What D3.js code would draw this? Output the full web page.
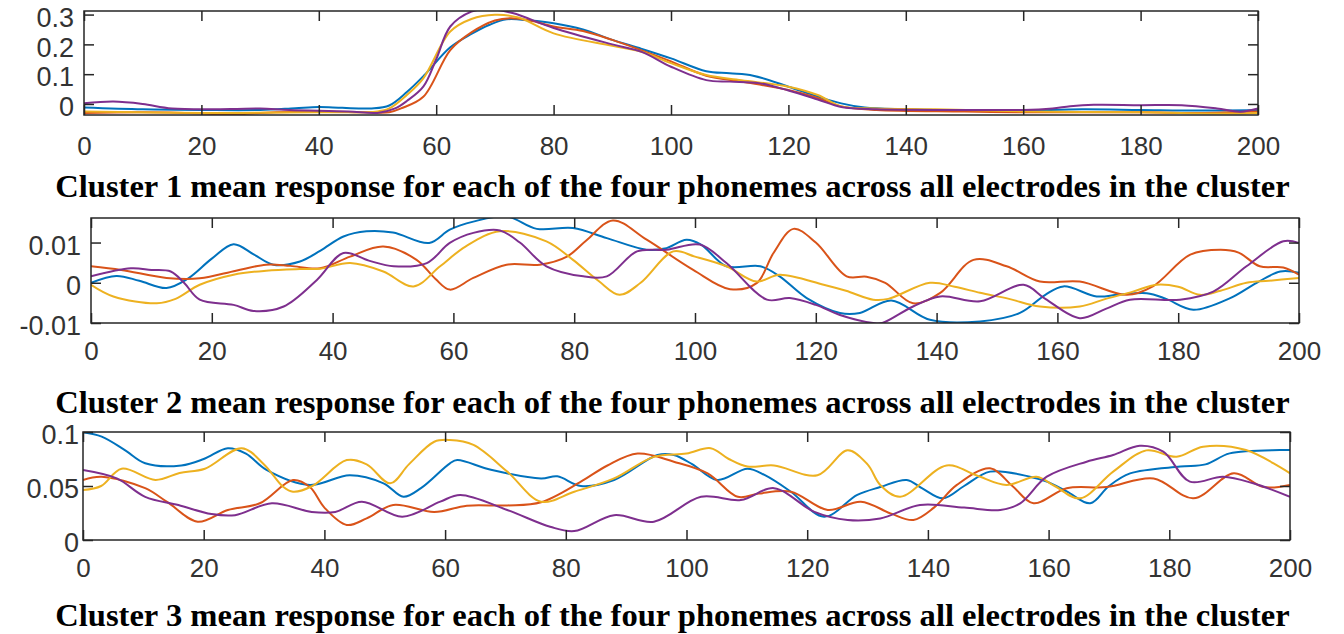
<!DOCTYPE html>
<html>
<head>
<meta charset="utf-8">
<script src="https://cdn.jsdelivr.net/npm/d3@7"></script>
<style>
  body { margin: 0; background: #fff; }
</style>
</head>
<body>
<div id="my_dataviz"></div>
<script>
// ---- data: [time sample, mean response] ----
var xTicks = [0, 20, 40, 60, 80, 100, 120, 140, 160, 180, 200];
var yTicks1 = [0, 0.1, 0.2, 0.3];
var yTicks2 = [-0.01, 0, 0.01];
var yTicks3 = [0, 0.05, 0.1];
var yDomain1 = [-0.037, 0.312];
var yDomain2 = [-0.01, 0.0161];
var yDomain3 = [0, 0.1];

var titles = [
  "Cluster 1 mean response for each of the four phonemes across all electrodes in the cluster",
  "Cluster 2 mean response for each of the four phonemes across all electrodes in the cluster",
  "Cluster 3 mean response for each of the four phonemes across all electrodes in the cluster"
];

// cluster 1
var c1p1 = [[0,-0.012],[10,-0.018],[20,-0.02],[30,-0.02],[36,-0.014],[40,-0.01],[44,-0.013],[49,-0.015],[52,-0.005],[55,0.04],[58,0.097],[62.4,0.19],[66,0.235],[69,0.265],[72,0.284],[76,0.28],[80,0.271],[85,0.25],[90,0.215],[95,0.185],[100,0.153],[106,0.11],[110,0.103],[114,0.095],[120,0.058],[125,0.025],[129,0.002],[133,-0.012],[140,-0.018],[150,-0.022],[160,-0.022],[170,-0.018],[180,-0.02],[190,-0.022],[200,-0.02]];
var c1p2 = [[0,-0.03],[10,-0.028],[20,-0.032],[25,-0.036],[30,-0.03],[40,-0.025],[48,-0.028],[52,-0.028],[54,-0.015],[57.8,0.024],[62.4,0.181],[66,0.24],[70,0.28],[72.6,0.288],[76,0.28],[80,0.26],[85,0.245],[90,0.215],[95,0.18],[100,0.143],[106,0.095],[112,0.075],[120,0.047],[125,0.02],[129,-0.008],[135,-0.02],[150,-0.025],[160,-0.028],[180,-0.028],[190,-0.03],[200,-0.025]];
var c1p3 = [[0,-0.025],[20,-0.03],[40,-0.028],[50,-0.025],[52,-0.015],[55,0.03],[57.8,0.086],[62.4,0.243],[66,0.285],[70,0.299],[74,0.29],[80,0.237],[90,0.195],[95,0.175],[100,0.137],[106,0.097],[112,0.08],[120,0.058],[125,0.03],[129,-0.008],[135,-0.015],[145,-0.018],[160,-0.025],[180,-0.028],[195,-0.032],[200,-0.03]];
var c1p4 = [[0,0.002],[5,0.008],[10,0.0],[15,-0.015],[25,-0.017],[30,-0.015],[35,-0.02],[45,-0.025],[50,-0.03],[53,-0.015],[55,0.01],[57.8,0.058],[60,0.15],[62.4,0.26],[66,0.31],[69,0.318],[73,0.305],[80,0.255],[90,0.2],[95,0.175],[100,0.125],[106,0.08],[110,0.075],[115,0.07],[120,0.045],[125,0.015],[129,-0.01],[135,-0.018],[150,-0.02],[160,-0.02],[165,-0.015],[168,-0.008],[172,-0.003],[180,-0.004],[187,-0.004],[193,-0.015],[197,-0.026],[200,-0.015]];

// cluster 2
var c2p1 = [[0,0],[4.2,0.0017],[8,0.0005],[12.5,-0.0013],[16,0.001],[20,0.006],[23.6,0.0096],[27,0.007],[30.2,0.0045],[34.6,0.0053],[38,0.008],[41.8,0.0115],[45.6,0.0128],[50,0.0125],[56,0.0099],[59.4,0.0132],[63.3,0.0152],[68.8,0.0165],[73.8,0.0134],[79.8,0.0136],[85.4,0.0111],[92,0.0082],[95,0.0085],[98.6,0.0107],[101,0.0095],[105.2,0.0041],[110.8,0.0041],[114,0.0016],[118.5,-0.0038],[124,-0.0075],[127.3,-0.0075],[132.5,-0.0044],[138.9,-0.0092],[147.2,-0.0096],[153.8,-0.0075],[158,-0.003],[161,-0.0009],[166.5,-0.0034],[170,-0.003],[174.8,-0.0026],[178,-0.004],[182.5,-0.0067],[188.6,-0.0038],[193,0],[196.9,0.0028],[200,0.0025]];
var c2p2 = [[0,0.0041],[5,0.0032],[12.5,0.0012],[18,0.0011],[24,0.003],[29,0.0045],[33,0.0042],[37.9,0.0036],[42.9,0.0065],[48.4,0.009],[53.9,0.0057],[57,0.001],[59.4,-0.0017],[63.3,0.0012],[68.8,0.0045],[74.3,0.0045],[78.8,0.0065],[82,0.0105],[86.4,0.0155],[92,0.0107],[99.7,0.0032],[105.8,-0.0016],[110.2,-0.0001],[113,0.0074],[116.3,0.0134],[120,0.01],[125.1,0.0016],[128.4,0.0015],[131.5,0.0],[136.1,-0.0051],[140.6,-0.0025],[146.1,0.0057],[151.6,0.0041],[157.1,0.0003],[163.7,0.0003],[171.5,-0.003],[175.8,-0.0009],[182,0.007],[187,0.0082],[190,0.0075],[193.5,0.0041],[197.4,0.0038],[200,0.002]];
var c2p3 = [[0,-0.0005],[3.7,-0.0034],[10.9,-0.0051],[14,-0.004],[18,-0.0005],[23.6,0.002],[29,0.003],[34.6,0.0034],[38,0.0035],[42.9,0.0049],[48.4,0.0028],[53.4,-0.0009],[57.8,0.0041],[62,0.009],[67.7,0.0128],[75.4,0.0103],[79.8,0.0057],[84,0.0005],[87.5,-0.003],[91,0.0],[96.4,0.0078],[100,0.0065],[105.2,0.0041],[110.2,0.0003],[114,0.002],[121.3,-0.0005],[125,-0.002],[129.5,-0.0042],[132,-0.004],[138.9,0],[143,-0.001],[147.2,-0.0025],[152,-0.004],[157.1,-0.0059],[163.7,-0.0059],[168,-0.004],[172.5,-0.0022],[176.4,-0.0005],[180,-0.001],[183.6,-0.003],[187,-0.002],[191.3,0],[195,0.0005],[200,0.0012]];
var c2p4 = [[0,0.0016],[6.6,0.0036],[10,0.0032],[13.2,0.0028],[15.4,0],[18,-0.0042],[23.6,-0.0055],[26.9,-0.007],[31.9,-0.0059],[37.4,0.0007],[41.8,0.0074],[46,0.0055],[50.1,0.0041],[55.6,0.0049],[59.4,0.0099],[63.3,0.0124],[67.7,0.013],[71,0.01],[75.4,0.0041],[81.5,0.0016],[85.4,0.0016],[90.4,0.0078],[95.3,0.0082],[100.8,0.0095],[105.2,0.0049],[111.9,-0.0042],[115.7,-0.0038],[120,-0.0055],[124,-0.008],[129.5,-0.01],[131,-0.01],[136.1,-0.0059],[140.6,-0.0034],[147.2,-0.0046],[154.4,-0.0005],[158,-0.004],[163.7,-0.0088],[168,-0.0065],[172,-0.0042],[180.3,-0.0042],[185.8,-0.0022],[191.3,0.0041],[197.4,0.0103],[200,0.0099]];

// cluster 3
var c3p1 = [[0,0.0997],[3.1,0.0957],[7,0.083],[10.3,0.071],[16.3,0.069],[20,0.075],[24,0.085],[27,0.08],[30.4,0.065],[37.6,0.051],[44.2,0.06],[49.8,0.0525],[53.1,0.04],[56,0.048],[60.8,0.071],[62,0.074],[67.6,0.065],[75.9,0.057],[78.6,0.059],[82.5,0.05],[88,0.0556],[95.2,0.0787],[97.9,0.0787],[101,0.07],[105.1,0.0556],[110.1,0.066],[113,0.06],[117.3,0.0447],[122.8,0.0216],[128.3,0.0417],[132.1,0.049],[136.5,0.0556],[139,0.048],[142.5,0.0386],[146,0.05],[150.3,0.0633],[156.9,0.0586],[159.7,0.054],[163,0.045],[166.9,0.034],[170,0.05],[173.5,0.0617],[181.8,0.068],[186,0.07],[190,0.0802],[198.3,0.0833],[200,0.0833]];
var c3p2 = [[0,0.0556],[3.1,0.0586],[10.3,0.048],[14,0.035],[19,0.017],[24,0.0278],[29.3,0.034],[34.8,0.0556],[37.6,0.049],[40,0.03],[43.7,0.0139],[47,0.02],[51.4,0.0324],[58.2,0.026],[63.6,0.0318],[70.3,0.032],[75.9,0.035],[82.5,0.054],[86.9,0.069],[91.9,0.08],[97.9,0.0725],[103.5,0.0617],[108.5,0.04],[112,0.043],[117.3,0.0447],[123.4,0.0278],[128.9,0.0355],[133.8,0.0247],[137.6,0.0185],[141,0.03],[144.8,0.051],[150.3,0.0664],[154,0.05],[157.5,0.034],[163,0.048],[169.6,0.049],[177.4,0.057],[184,0.0386],[190.7,0.0617],[195.6,0.049],[200,0.051]];
var c3p3 = [[0,0.0463],[3,0.05],[6.4,0.066],[12,0.0556],[16,0.062],[20.2,0.066],[26.3,0.085],[30,0.07],[33.2,0.049],[34.8,0.0447],[38,0.05],[43.7,0.074],[47,0.07],[50.9,0.0525],[54,0.07],[58.2,0.091],[60.8,0.0926],[64.7,0.088],[70.3,0.0633],[75.9,0.0355],[81.4,0.0447],[88,0.057],[94.6,0.077],[100,0.08],[104,0.085],[107,0.075],[110.1,0.068],[114.5,0.069],[121.7,0.06],[126.7,0.083],[130,0.07],[132.1,0.051],[135.4,0.04],[143.1,0.069],[148,0.06],[153,0.051],[158,0.0586],[161,0.05],[165.2,0.0386],[170.7,0.0633],[176.2,0.083],[181.2,0.077],[185.6,0.0864],[192.7,0.0833],[200,0.0617]];
var c3p4 = [[0,0.0648],[5.6,0.057],[10.3,0.04],[15.8,0.0324],[21.3,0.024],[25.2,0.023],[31.3,0.034],[37.9,0.026],[41.8,0.026],[46.2,0.0355],[52.9,0.0216],[59.2,0.0355],[62.5,0.0417],[70.3,0.0278],[77.4,0.0123],[81.4,0.0083],[88,0.023],[94.6,0.017],[102.4,0.04],[109,0.037],[114.5,0.048],[121.2,0.026],[126.7,0.0185],[132.1,0.02],[138.7,0.0324],[146,0.03],[152,0.0278],[155.3,0.034],[159.7,0.0586],[166.3,0.0725],[170.7,0.0787],[175.1,0.0873],[179,0.0818],[183.4,0.054],[188.9,0.0586],[193.9,0.0525],[200,0.04]];

// MATLAB default line colours
var colors = ["#0072BD", "#D95319", "#EDB120", "#7E2F8E"];

var svg = d3.select("#my_dataviz")
  .append("svg")
  .attr("width", 1344)
  .attr("height", 634);

var axisFont = "'Liberation Sans', Arial, sans-serif";
var axisColor = "#262626";

// matlab-style labels: plain hyphen for negatives
function yFormat(d) {
  return d3.format("~g")(d).replace("\u2212", "-");
}

function drawPanel(id, box, yDomain, yTicks, series, xPad, yPad) {
  var x = d3.scaleLinear().domain([0, 200]).range([box.left, box.right]);
  var y = d3.scaleLinear().domain(yDomain).range([box.bottom, box.top]);

  svg.append("clipPath")
    .attr("id", "clip" + id)
    .append("rect")
    .attr("x", box.left).attr("y", box.top)
    .attr("width", box.right - box.left).attr("height", box.bottom - box.top);

  var line = d3.line()
    .x(function(d) { return x(d[0]); })
    .y(function(d) { return y(d[1]); })
    .curve(d3.curveCatmullRom.alpha(0.5));

  var g = svg.append("g").attr("clip-path", "url(#clip" + id + ")");
  series.forEach(function(s, i) {
    g.append("path")
      .datum(s)
      .attr("fill", "none")
      .attr("stroke", colors[i])
      .attr("stroke-width", 2)
      .attr("d", line);
  });

  // ticks on all four sides, pointing inward
  var bottom = svg.append("g")
    .attr("transform", "translate(0," + box.bottom + ")")
    .call(d3.axisBottom(x).tickValues(xTicks).tickSizeInner(-10).tickSizeOuter(0).tickPadding(xPad));
  svg.append("g")
    .attr("transform", "translate(0," + box.top + ")")
    .call(d3.axisTop(x).tickValues(xTicks).tickSizeInner(-10).tickSizeOuter(0).tickFormat(""));
  var left = svg.append("g")
    .attr("transform", "translate(" + box.left + ",0)")
    .call(d3.axisLeft(y).tickValues(yTicks).tickSizeInner(-10).tickSizeOuter(0).tickPadding(yPad).tickFormat(yFormat));
  svg.append("g")
    .attr("transform", "translate(" + box.right + ",0)")
    .call(d3.axisRight(y).tickValues(yTicks).tickSizeInner(-10).tickSizeOuter(0).tickFormat(""));

  svg.selectAll(".domain").remove();
  svg.selectAll(".tick line").attr("stroke", axisColor).attr("stroke-width", 1.5);

  bottom.attr("font-family", axisFont).attr("font-size", 26);
  left.attr("font-family", axisFont).attr("font-size", 27);
  bottom.selectAll("text").attr("fill", "#333");
  left.selectAll("text").attr("fill", "#333").attr("y", 3);

  svg.append("rect")
    .attr("x", box.left).attr("y", box.top)
    .attr("width", box.right - box.left).attr("height", box.bottom - box.top)
    .attr("fill", "none")
    .attr("stroke", axisColor)
    .attr("stroke-width", 1.5);
}

drawPanel(1, {left: 84, right: 1258, top: 11, bottom: 115}, yDomain1, yTicks1, [c1p1, c1p2, c1p3, c1p4], 22, 10);
drawPanel(2, {left: 91, right: 1299, top: 218, bottom: 323}, yDomain2, yTicks2, [c2p1, c2p2, c2p3, c2p4], 19, 10);
drawPanel(3, {left: 83, right: 1290, top: 432, bottom: 540}, yDomain3, yTicks3, [c3p1, c3p2, c3p3, c3p4], 19, 4);

// captions, sized so each spans the same width as in the figure
var titleY = [196.5, 413.3, 625.7];
titles.forEach(function(t, i) {
  var txt = svg.append("text")
    .attr("x", 672.5)
    .attr("y", titleY[i])
    .attr("text-anchor", "middle")
    .attr("font-family", "'Liberation Serif', 'Times New Roman', serif")
    .attr("font-weight", "bold")
    .attr("font-size", 100)
    .attr("fill", "#000")
    .text(t);
  var len = txt.node().getComputedTextLength();
  txt.attr("font-size", 100 * 1235 / len);
});
</script>
</body>
</html>
